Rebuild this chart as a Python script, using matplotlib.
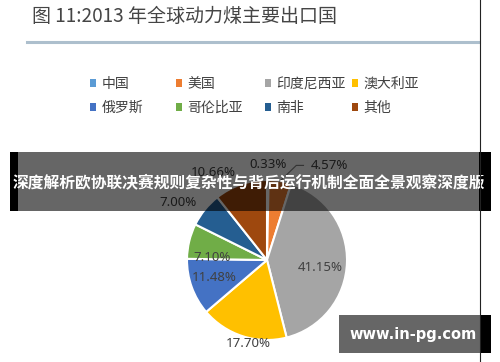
import matplotlib
matplotlib.use('Agg')
import matplotlib.pyplot as plt
from matplotlib.patches import Rectangle, Patch
from matplotlib.lines import Line2D
import numpy as np

# ---------------- data ----------------
countries = ['中国', '美国', '印度尼西亚', '澳大利亚', '俄罗斯', '哥伦比亚', '南非', '其他']
shares = [0.33, 4.57, 41.15, 17.70, 11.48, 7.10, 7.00, 10.66]
colors = ['#5b9bd5', '#ed7d31', '#a5a5a5', '#ffc000', '#4472c4', '#70ad47', '#255e91', '#9e480e']
title = '图 11:2013 年全球动力煤主要出口国'
banner_text = '深度解析欧协联决赛规则复杂性与背后运行机制全面全景观察深度版'
watermark = 'www.in-pg.com'

# ---------------- styles / placement ----------------
label_r = [1.19, 1.42, 0.67, 1.076, 0.70, 0.685, 1.32, 1.285]
label_dang = [0, -24.2, -6.1, 5, -1.7, 10.8, 6, 12.3]
legend_cols_x = [89.5, 175.5, 264.5, 351.5]   # px, left edge of markers
CJK = ['Noto Sans CJK SC', 'DejaVu Sans']

W, H = 500, 362
fig = plt.figure(figsize=(W / 100, H / 100), dpi=100)
fig.patch.set_facecolor('white')


def fx(x):
    return x / W


def fy(y):
    return 1 - y / H


# ---------------- pie ----------------
cx, cy, R = 267, 260, 80
ax = fig.add_axes([fx(cx - 1.5 * R), fy(cy + 1.5 * R), 3 * R / W, 3 * R / H])
wedges, _ = ax.pie(shares, colors=colors, startangle=90, counterclock=False, radius=1,
                   wedgeprops=dict(edgecolor='white', linewidth=1.5))
ax.set_xlim(-1.5, 1.5)
ax.set_ylim(-1.5, 1.5)
ax.axis('off')

for i, (w, v) in enumerate(zip(wedges, shares)):
    mid = (w.theta1 + w.theta2) / 2
    ang = np.deg2rad(mid + label_dang[i])
    x, y = label_r[i] * np.cos(ang), label_r[i] * np.sin(ang)
    ax.text(x, y, f'{v:.2f}%', ha='center', va='center', fontsize=9.5,
            color='#404040', family='Noto Sans', clip_on=False)
    if i == 1:
        m = np.deg2rad(mid)
        sx, sy = np.cos(m), np.sin(m)
        ax.plot([sx, x - 0.42, x - 0.33], [sy, y, y], color='#7f7f7f', lw=0.8,
                clip_on=False)

# ---------------- title ----------------
fig.text(fx(32), fy(16), title, ha='left', va='center', fontsize=13.7,
         color='#454545', family=CJK)
fig.add_artist(Line2D([fx(27), fx(479)], [fy(41.5), fy(41.5)], lw=2.2,
                      color='#adbfcd', transform=fig.transFigure))

# ---------------- legend (4 columns x 2 rows) ----------------
ncols = 4
for c in range(ncols):
    idx = [c, c + ncols]
    handles = [Patch(facecolor=colors[k], edgecolor='none') for k in idx]
    labels = [countries[k] for k in idx]
    fig.legend(handles, labels, loc='upper left',
               bbox_to_anchor=(fx(legend_cols_x[c]), fy(77)),
               frameon=False, handlelength=0.5, handleheight=0.5,
               handletextpad=0.35, borderpad=0, borderaxespad=0, labelspacing=0.72,
               labelcolor='#404040', prop={'family': CJK, 'size': 10})

# ---------------- overlays ----------------
def rect(x0, y0, x1, y1, color, alpha=1.0, z=10):
    fig.add_artist(Rectangle((fx(x0), fy(y1)), (x1 - x0) / W, (y1 - y0) / H,
                             transform=fig.transFigure, facecolor=color,
                             edgecolor='none', alpha=alpha, zorder=z))

# banner
rect(18, 152, 479, 211, 'black', 0.6)
rect(10, 152, 18, 211, 'black')
rect(479, 152, 491, 211, 'black')
fig.text(fx(249), fy(182), banner_text, ha='center', va='center', fontsize=11.35,
         fontweight='bold', color='white', family=CJK, zorder=11)

# watermark
rect(339, 315, 480, 353, 'black', 0.6)
rect(480, 315, 491, 353, 'black')
fig.text(fx(413.5), fy(335), watermark, ha='center', va='center', fontsize=10.5,
         fontweight='bold', color='white', family='DejaVu Sans', zorder=11)

# right border line
fig.add_artist(Line2D([fx(479.5), fx(479.5)], [0, 1], lw=0.8, color='#222222',
                      transform=fig.transFigure, zorder=12))

fig.savefig('out.png', dpi=100, facecolor='white')
